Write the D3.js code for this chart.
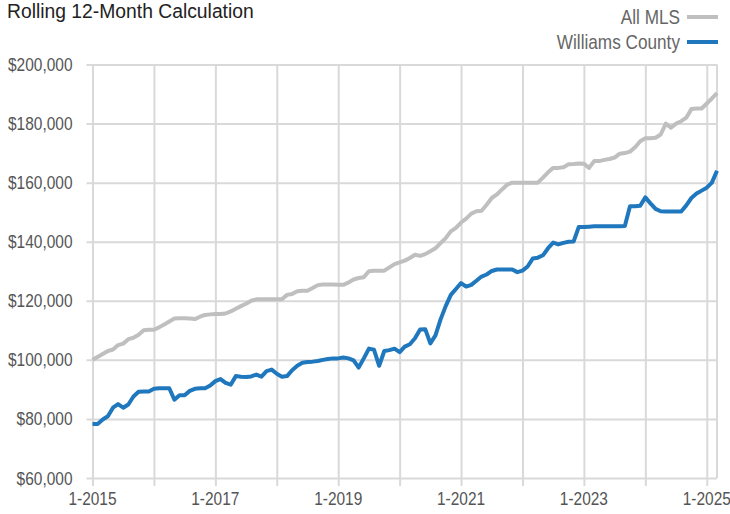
<!DOCTYPE html>
<html>
<head>
<meta charset="utf-8">
<script src="https://cdn.jsdelivr.net/npm/d3@7"></script>
<style>
  body { margin: 0; background: #fff; }
  svg text { font-family: "Liberation Sans", Arial, sans-serif; }
  .grid line { stroke: #d9d9d9; stroke-width: 2; }
  .grid path { display: none; }
</style>
</head>
<body>
<div id="chart"></div>
<script>
// monthly values, Jan 2015 .. Mar 2025
const startYear = 2015;
const allMls = [
  100000, 101000, 102000, 103000, 103500, 105000, 105500, 107000, 107500, 108500, 110000, 110200,
  110200, 111000, 112000, 113000, 114000, 114100, 114100, 114000, 113800, 114600, 115200, 115400,
  115500, 115500, 115700, 116400, 117300, 118200, 119000, 120000, 120500, 120500, 120500, 120500,
  120500, 120500, 122000, 122300, 123200, 123400, 123400, 124300, 125300, 125500, 125500, 125500,
  125400, 125400, 126200, 127200, 127700, 128000, 130000, 130200, 130200, 130200, 131300, 132400,
  133000, 133600, 134500, 135600, 135200, 135800, 136800, 137800, 139500, 141200, 143500, 144700,
  146500, 147800, 149500, 150300, 150500, 152500, 154800, 156000, 157700, 159300, 160000, 160000,
  160000, 160000, 160000, 160000, 161700, 163500, 165000, 165000, 165200, 166200, 166300, 166500,
  166400, 165000, 167300, 167300, 167700, 168000, 168500, 169800, 170000, 170500, 172000, 174000,
  175000, 175000, 175200, 176300, 180000, 178600, 180000, 180800, 182000, 184900, 185100, 185100,
  186800, 188500, 190300
];
const williamsCounty = [
  78300, 78300, 79800, 80900, 83800, 85000, 83800, 84900, 87600, 89200, 89300, 89300,
  90200, 90400, 90400, 90400, 86500, 88000, 88000, 89500, 90200, 90400, 90400, 91300,
  92800, 93500, 92200, 91600, 94500, 94300, 94200, 94400, 95000, 94300, 96200, 96700,
  95300, 94300, 94500, 96500, 98000, 99000, 99300, 99400, 99600, 100000, 100300, 100500,
  100500, 100800, 100500, 99800, 97400, 100500, 103800, 103400, 98000, 103000, 103300, 103800,
  102600, 104500, 105300, 107300, 110300, 110400, 105600, 108300, 113700, 118200, 122000, 124000,
  126000, 124800, 125400, 126800, 128200, 128900, 130100, 130600, 130600, 130600, 130600, 129700,
  130200, 131600, 134300, 134600, 135400, 137800, 139700, 139100, 139600, 140000, 140100, 145000,
  145000, 145100, 145200, 145200, 145200, 145200, 145200, 145200, 145300, 152000, 152000, 152200,
  155000, 153000, 151100, 150300, 150200, 150200, 150200, 150200, 152300, 154800, 156300, 157300,
  158300, 160000, 164000
];
const yTicks = [60000, 80000, 100000, 120000, 140000, 160000, 180000, 200000];
const xTickYears = d3.range(2015, 2026);
const seriesNames = ['All MLS', 'Williams County'];
const seriesColors = ['#bfbfbf', '#1f77bd'];

const width = 730;
const height = 514;
const margin = { top: 64.5, right: 13, bottom: 36, left: 92.5 };
const squeeze = 0.86; // the original font is a condensed one

const svg = d3.select('#chart')
  .append('svg')
  .attr('width', width)
  .attr('height', height);

// text placed with a horizontal squeeze so it reads as a narrow font
function addText(parent, x, y, str, size, fill, anchor, sx = squeeze) {
  return parent.append('text')
    .attr('transform', `translate(${x},${y}) scale(${sx},1)`)
    .attr('font-size', size)
    .attr('fill', fill)
    .attr('text-anchor', anchor)
    .text(str);
}

const xScale = d3.scaleLinear()
  .domain([0, allMls.length - 1])
  .range([margin.left, width - margin.right]);

const yScale = d3.scaleLinear()
  .domain([60000, 200000])
  .range([height - margin.bottom, margin.top]);

// horizontal gridlines (with small tick stubs on the left)
svg.append('g')
  .attr('class', 'grid')
  .attr('transform', `translate(${margin.left - 6}, 0)`)
  .call(d3.axisLeft(yScale).tickValues(yTicks).tickFormat('')
    .tickSize(-(width - margin.right - margin.left + 6)));

// vertical gridlines at each January, ticks extend below the bottom line
const monthTicks = xTickYears.map((y) => (y - startYear) * 12);
svg.append('g')
  .attr('class', 'grid')
  .attr('transform', `translate(0, ${height - margin.bottom + 8})`)
  .call(d3.axisBottom(xScale).tickValues(monthTicks).tickFormat('')
    .tickSize(-(height - margin.bottom + 8 - margin.top)));

// right border
svg.append('line')
  .attr('x1', width - margin.right).attr('x2', width - margin.right)
  .attr('y1', margin.top).attr('y2', height - margin.bottom)
  .attr('stroke', '#d9d9d9').attr('stroke-width', 2);

// y tick labels
const yLabels = svg.append('g');
yTicks.forEach((d) => {
  addText(yLabels, margin.left - 20, yScale(d) + 6.5, '$' + d3.format(',')(d), 18, '#555', 'end');
});

// x tick labels every two years
const xLabels = svg.append('g');
xTickYears.filter((y) => (y - startYear) % 2 === 0).forEach((y) => {
  addText(xLabels, xScale((y - startYear) * 12), height - margin.bottom + 27, '1-' + y, 18, '#555', 'middle');
});

// the two lines
const line = d3.line()
  .x((d, i) => xScale(i))
  .y((d) => yScale(d));

[allMls, williamsCounty].forEach((values, i) => {
  svg.append('path')
    .datum(values)
    .attr('fill', 'none')
    .attr('stroke', seriesColors[i])
    .attr('stroke-width', 4)
    .attr('stroke-linejoin', 'round')
    .attr('d', line);
});

// title
addText(svg, 7, 18, 'Rolling 12-Month Calculation', 21, '#222', 'start', 0.92);

// legend
const legend = svg.append('g');
seriesNames.forEach((name, i) => {
  const ly = 17 + i * 25;
  addText(legend, 680, ly + 7, name, 20, '#666', 'end');
  legend.append('line')
    .attr('x1', 687).attr('x2', 718)
    .attr('y1', ly).attr('y2', ly)
    .attr('stroke', seriesColors[i])
    .attr('stroke-width', 4);
});
</script>
</body>
</html>
